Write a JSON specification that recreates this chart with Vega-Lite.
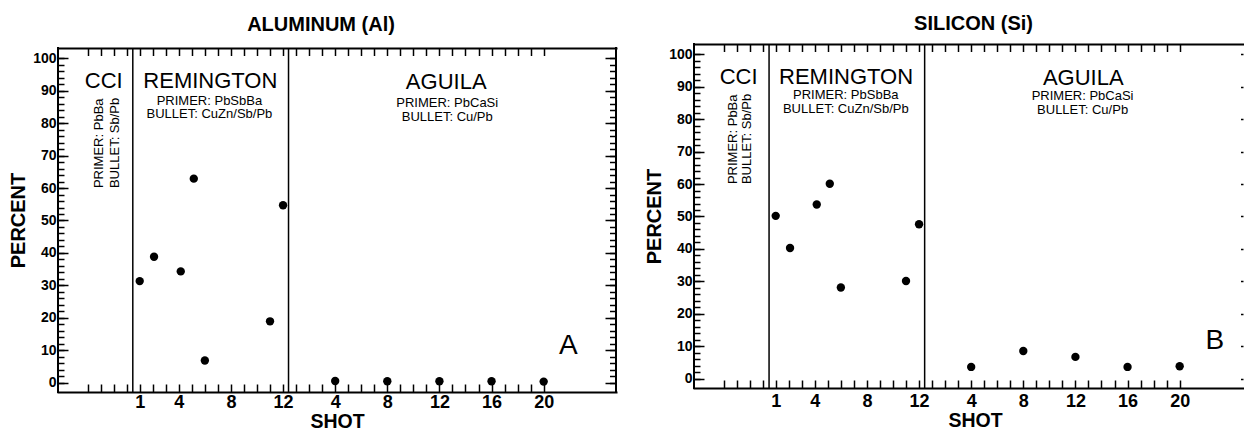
{
  "$schema": "https://vega.github.io/schema/vega-lite/v6.json",
  "padding": {"left": 8, "top": 13, "right": 0, "bottom": 0},
  "autosize": {"type": "pad"},
  "config": {
    "font": "Liberation Sans",
    "view": {"stroke": null},
    "axis": {"grid": false, "domainColor": "#000", "domainWidth": 2, "domainCap": "square", "tickColor": "#000", "tickWidth": 1.5, "labelColor": "#000", "titleColor": "#000", "labelFont": "Liberation Sans", "titleFont": "Liberation Sans"},
    "title": {"color": "#000", "font": "Liberation Sans"},
    "text": {"color": "#000", "font": "Liberation Sans"}
  },
  "datasets": {
    "al": [
      {"shot_index": 1, "percent": 31.3}, {"shot_index": 2.1, "percent": 38.8}, {"shot_index": 4.15, "percent": 34.3},
      {"shot_index": 5.15, "percent": 62.9}, {"shot_index": 6, "percent": 6.8}, {"shot_index": 11, "percent": 18.9},
      {"shot_index": 12, "percent": 54.7}, {"shot_index": 16, "percent": 0.5}, {"shot_index": 20, "percent": 0.4},
      {"shot_index": 24, "percent": 0.4}, {"shot_index": 28, "percent": 0.4}, {"shot_index": 32, "percent": 0.3}
    ],
    "si": [
      {"shot_index": 1, "percent": 50.2}, {"shot_index": 2.1, "percent": 40.3}, {"shot_index": 4.15, "percent": 53.7},
      {"shot_index": 5.15, "percent": 60.1}, {"shot_index": 6, "percent": 28.1}, {"shot_index": 11, "percent": 30.1},
      {"shot_index": 12, "percent": 47.6}, {"shot_index": 16, "percent": 3.6}, {"shot_index": 20, "percent": 8.5},
      {"shot_index": 24, "percent": 6.7}, {"shot_index": 28, "percent": 3.6}, {"shot_index": 32, "percent": 3.8}
    ],
    "bigA": [
      {"x": -1.76, "y": 93.05, "label": "CCI"}, {"x": 6.42, "y": 93.05, "label": "REMINGTON"}, {"x": 24.52, "y": 92.6, "label": "AGUILA"}
    ],
    "smallA": [
      {"x": 6.35, "y": 86.9, "label": "PRIMER: PbSbBa"}, {"x": 6.35, "y": 82.8, "label": "BULLET: CuZn/Sb/Pb"},
      {"x": 24.6, "y": 86.2, "label": "PRIMER: PbCaSi"}, {"x": 24.6, "y": 81.9, "label": "BULLET: Cu/Pb"}
    ],
    "rotA": [
      {"x": -2.09, "y": 60, "label": "PRIMER: PbBa"}, {"x": -0.91, "y": 60, "label": "BULLET: Sb/Pb"}
    ],
    "letterA": [{"x": 33.9, "y": 11.3, "label": "A"}],
    "sepA": [{"x": 0.47}, {"x": 12.42}],
    "bigB": [
      {"x": -1.85, "y": 93.1, "label": "CCI"}, {"x": 6.4, "y": 93.0, "label": "REMINGTON"}, {"x": 24.6, "y": 92.8, "label": "AGUILA"}
    ],
    "smallB": [
      {"x": 6.38, "y": 87.4, "label": "PRIMER: PbSbBa"}, {"x": 6.38, "y": 83.2, "label": "BULLET: CuZn/Sb/Pb"},
      {"x": 24.55, "y": 87.3, "label": "PRIMER: PbCaSi"}, {"x": 24.55, "y": 82.9, "label": "BULLET: Cu/Pb"}
    ],
    "rotB": [
      {"x": -2.29, "y": 60, "label": "PRIMER: PbBa"}, {"x": -1.23, "y": 60, "label": "BULLET: Sb/Pb"}
    ],
    "letterB": [{"x": 34.7, "y": 11.6, "label": "B"}],
    "sepB": [{"x": 0.49}, {"x": 12.43}]
  },
  "resolve": {"scale": {"x": "independent", "y": "independent"}},
  "spacing": 26,
  "hconcat": [
    {
      "title": {"text": "ALUMINUM (Al)", "fontSize": 20, "fontWeight": "bold", "offset": 9, "dx": -16},
      "width": 558,
      "height": 348,
      "resolve": {"axis": {"x": "independent", "y": "independent"}},
      "layer": [
        {
          "data": {"name": "al"},
          "mark": {"type": "circle", "size": 70, "color": "#000", "opacity": 1},
          "encoding": {
            "x": {"field": "shot_index", "type": "quantitative", "scale": {"domain": [-5.27, 37.55], "nice": false, "zero": false},
              "axis": {"orient": "bottom", "values": [-3,-2,-1,0,1,2,3,4,5,6,7,8,9,10,11,12,13,14,15,16,17,18,19,20,21,22,23,24,25,26,27,28,29,30,31,32],
                "tickSize": -8, "labelPadding": 9, "labelFontSize": 18, "labelFontWeight": "bold", "labelFlush": false, "labelOverlap": false,
                "labelExpr": "indexof([1,4,8,12], datum.value) >= 0 ? datum.label : ((datum.value >= 16 && datum.value % 4 == 0) ? '' + (datum.value - 12) : '')",
                "title": "SHOT", "titleFontSize": 19.5, "titleFontWeight": "bold", "titlePadding": 1}},
            "y": {"field": "percent", "type": "quantitative", "scale": {"domain": [-2.9, 104.43], "nice": false, "zero": false},
              "axis": {"orient": "left", "values": [0,10,20,30,40,50,60,70,80,90,100], "tickSize": -10, "labelPadding": 12, "domain": false,
                "labelFontSize": 14, "labelFontWeight": "bold", "labelFlush": false, "labelOverlap": false,
                "title": "PERCENT", "titleFontSize": 20, "titleFontWeight": "bold", "titlePadding": 4, "titleY": 176}}
          }
        },
        {
          "data": {"name": "bigA"},
          "mark": {"type": "text", "fontSize": 22, "align": "center", "baseline": "middle"},
          "encoding": {
            "x": {"field": "x", "type": "quantitative", "scale": {"domain": [-5.27, 37.55], "nice": false, "zero": false},
              "axis": {"orient": "top", "offset": -4, "values": [-3,-2,-1,0,1,2,3,4,5,6,7,8,9,10,11,12,13,14,15,16,17,18,19,20,21,22,23,24,25,26,27,28,29,30,31,32],
                "tickSize": -7.5, "labels": false, "title": null, "domain": true}},
            "y": {"field": "y", "type": "quantitative", "scale": {"domain": [-2.9, 104.43], "nice": false, "zero": false},
              "axis": {"orient": "left", "values": [0,2,4,6,8,10,12,14,16,18,20,22,24,26,28,30,32,34,36,38,40,42,44,46,48,50,52,54,56,58,60,62,64,66,68,70,72,74,76,78,80,82,84,86,88,90,92,94,96,98,100],
                "tickSize": -6, "labels": false, "title": null, "domain": false}},
            "text": {"field": "label"}
          }
        },
        {
          "data": {"name": "smallA"},
          "mark": {"type": "text", "fontSize": 13, "align": "center", "baseline": "middle"},
          "encoding": {
            "x": {"field": "x", "type": "quantitative", "scale": {"domain": [-5.27, 37.55], "nice": false, "zero": false}, "axis": null},
            "y": {"field": "y", "type": "quantitative", "scale": {"domain": [-2.9, 104.43], "nice": false, "zero": false},
              "axis": {"orient": "right", "values": [0,10,20,30,40,50,60,70,80,90,100], "tickSize": -11, "labels": false, "title": null, "domain": false}},
            "text": {"field": "label"}
          }
        },
        {
          "data": {"name": "rotA"},
          "mark": {"type": "text", "fontSize": 13, "align": "left", "baseline": "middle", "angle": 270},
          "encoding": {
            "x": {"field": "x", "type": "quantitative", "scale": {"domain": [-5.27, 37.55], "nice": false, "zero": false}, "axis": null},
            "y": {"field": "y", "type": "quantitative", "scale": {"domain": [-2.9, 104.43], "nice": false, "zero": false},
              "axis": {"orient": "right", "values": [0,2,4,6,8,10,12,14,16,18,20,22,24,26,28,30,32,34,36,38,40,42,44,46,48,50,52,54,56,58,60,62,64,66,68,70,72,74,76,78,80,82,84,86,88,90,92,94,96,98,100],
                "tickSize": -6.5, "labels": false, "title": null, "domain": false}},
            "text": {"field": "label"}
          }
        },
        {
          "data": {"name": "letterA"},
          "mark": {"type": "text", "fontSize": 28, "align": "center", "baseline": "middle"},
          "encoding": {
            "x": {"field": "x", "type": "quantitative", "scale": {"domain": [-5.27, 37.55], "nice": false, "zero": false}, "axis": null},
            "y": {"field": "y", "type": "quantitative", "scale": {"domain": [-2.9, 104.43], "nice": false, "zero": false}, "axis": null},
            "text": {"field": "label"}
          }
        },
        {
          "data": {"name": "sepA"},
          "mark": {"type": "rule", "color": "#000", "strokeWidth": 1.5},
          "encoding": {
            "x": {"field": "x", "type": "quantitative", "scale": {"domain": [-5.27, 37.55], "nice": false, "zero": false}, "axis": null},
            "y": {"datum": -2.9, "type": "quantitative", "scale": {"domain": [-2.9, 104.43], "nice": false, "zero": false}, "axis": null},
            "y2": {"datum": 103.2}
          }
        },
        {
          "data": {"values": [{}]},
          "mark": {"type": "rule", "color": "#000", "strokeWidth": 2, "strokeCap": "square"},
          "encoding": {
            "x": {"datum": -5.27, "type": "quantitative", "scale": {"domain": [-5.27, 37.55], "nice": false, "zero": false}, "axis": null},
            "y": {"datum": -2.9, "type": "quantitative", "scale": {"domain": [-2.9, 104.43], "nice": false, "zero": false}, "axis": null},
            "y2": {"datum": 103.2}
          }
        },
        {
          "data": {"values": [{}]},
          "mark": {"type": "rule", "color": "#000", "strokeWidth": 2, "strokeCap": "square"},
          "encoding": {
            "x": {"datum": 37.55, "type": "quantitative", "scale": {"domain": [-5.27, 37.55], "nice": false, "zero": false}, "axis": null},
            "y": {"datum": -2.9, "type": "quantitative", "scale": {"domain": [-2.9, 104.43], "nice": false, "zero": false}, "axis": null},
            "y2": {"datum": 103.2}
          }
        }
      ]
    },
    {
      "title": {"text": "SILICON (Si)", "fontSize": 20, "fontWeight": "bold", "offset": 9, "dx": 5},
      "width": 549,
      "height": 348,
      "resolve": {"axis": {"x": "independent", "y": "independent"}},
      "layer": [
        {
          "data": {"name": "si"},
          "mark": {"type": "circle", "size": 70, "color": "#000", "opacity": 1},
          "encoding": {
            "x": {"field": "shot_index", "type": "quantitative", "scale": {"domain": [-5.27, 36.86], "nice": false, "zero": false},
              "axis": {"orient": "bottom", "offset": -4, "values": [-3,-2,-1,0,1,2,3,4,5,6,7,8,9,10,11,12,13,14,15,16,17,18,19,20,21,22,23,24,25,26,27,28,29,30,31,32],
                "tickSize": -8, "labelPadding": 12, "labelFontSize": 18, "labelFontWeight": "bold", "labelFlush": false, "labelOverlap": false,
                "labelExpr": "indexof([1,4,8,12], datum.value) >= 0 ? datum.label : ((datum.value >= 16 && datum.value % 4 == 0) ? '' + (datum.value - 12) : '')",
                "title": "SHOT", "titleFontSize": 19.5, "titleFontWeight": "bold", "titlePadding": 1, "titleX": 281}},
            "y": {"field": "percent", "type": "quantitative", "scale": {"domain": [-4.13, 103.2], "nice": false, "zero": false},
              "axis": {"orient": "left", "values": [0,10,20,30,40,50,60,70,80,90,100], "tickSize": -10, "labelPadding": 12, "domain": false,
                "labelFontSize": 14, "labelFontWeight": "bold", "labelFlush": false, "labelOverlap": false,
                "title": "PERCENT", "titleFontSize": 20, "titleFontWeight": "bold", "titlePadding": 4, "titleY": 172}}
          }
        },
        {
          "data": {"name": "bigB"},
          "mark": {"type": "text", "fontSize": 22, "align": "center", "baseline": "middle"},
          "encoding": {
            "x": {"field": "x", "type": "quantitative", "scale": {"domain": [-5.27, 36.86], "nice": false, "zero": false},
              "axis": {"orient": "top", "values": [-3,-2,-1,0,1,2,3,4,5,6,7,8,9,10,11,12,13,14,15,16,17,18,19,20,21,22,23,24,25,26,27,28,29,30,31,32],
                "tickSize": -7.5, "labels": false, "title": null, "domain": true}},
            "y": {"field": "y", "type": "quantitative", "scale": {"domain": [-4.13, 103.2], "nice": false, "zero": false},
              "axis": {"orient": "left", "values": [0,2,4,6,8,10,12,14,16,18,20,22,24,26,28,30,32,34,36,38,40,42,44,46,48,50,52,54,56,58,60,62,64,66,68,70,72,74,76,78,80,82,84,86,88,90,92,94,96,98,100],
                "tickSize": -6, "labels": false, "title": null, "domain": false}},
            "text": {"field": "label"}
          }
        },
        {
          "data": {"name": "smallB"},
          "mark": {"type": "text", "fontSize": 13, "align": "center", "baseline": "middle"},
          "encoding": {
            "x": {"field": "x", "type": "quantitative", "scale": {"domain": [-5.27, 36.86], "nice": false, "zero": false}, "axis": null},
            "y": {"field": "y", "type": "quantitative", "scale": {"domain": [-4.13, 103.2], "nice": false, "zero": false},
              "axis": {"orient": "right", "values": [0,10,20,30,40,50,60,70,80,90,100], "tickSize": -2.5, "labels": false, "title": null, "domain": false}},
            "text": {"field": "label"}
          }
        },
        {
          "data": {"name": "rotB"},
          "mark": {"type": "text", "fontSize": 13, "align": "left", "baseline": "middle", "angle": 270},
          "encoding": {
            "x": {"field": "x", "type": "quantitative", "scale": {"domain": [-5.27, 36.86], "nice": false, "zero": false}, "axis": null},
            "y": {"field": "y", "type": "quantitative", "scale": {"domain": [-4.13, 103.2], "nice": false, "zero": false}, "axis": null},
            "text": {"field": "label"}
          }
        },
        {
          "data": {"name": "letterB"},
          "mark": {"type": "text", "fontSize": 28, "align": "center", "baseline": "middle"},
          "encoding": {
            "x": {"field": "x", "type": "quantitative", "scale": {"domain": [-5.27, 36.86], "nice": false, "zero": false}, "axis": null},
            "y": {"field": "y", "type": "quantitative", "scale": {"domain": [-4.13, 103.2], "nice": false, "zero": false}, "axis": null},
            "text": {"field": "label"}
          }
        },
        {
          "data": {"name": "sepB"},
          "mark": {"type": "rule", "color": "#000", "strokeWidth": 1.5},
          "encoding": {
            "x": {"field": "x", "type": "quantitative", "scale": {"domain": [-5.27, 36.86], "nice": false, "zero": false}, "axis": null},
            "y": {"datum": -2.9, "type": "quantitative", "scale": {"domain": [-4.13, 103.2], "nice": false, "zero": false}, "axis": null},
            "y2": {"datum": 103.2}
          }
        },
        {
          "data": {"values": [{}]},
          "mark": {"type": "rule", "color": "#000", "strokeWidth": 2, "strokeCap": "square"},
          "encoding": {
            "x": {"datum": -5.27, "type": "quantitative", "scale": {"domain": [-5.27, 36.86], "nice": false, "zero": false}, "axis": null},
            "y": {"datum": -2.9, "type": "quantitative", "scale": {"domain": [-4.13, 103.2], "nice": false, "zero": false}, "axis": null},
            "y2": {"datum": 103.2}
          }
        }
      ]
    }
  ]
}
